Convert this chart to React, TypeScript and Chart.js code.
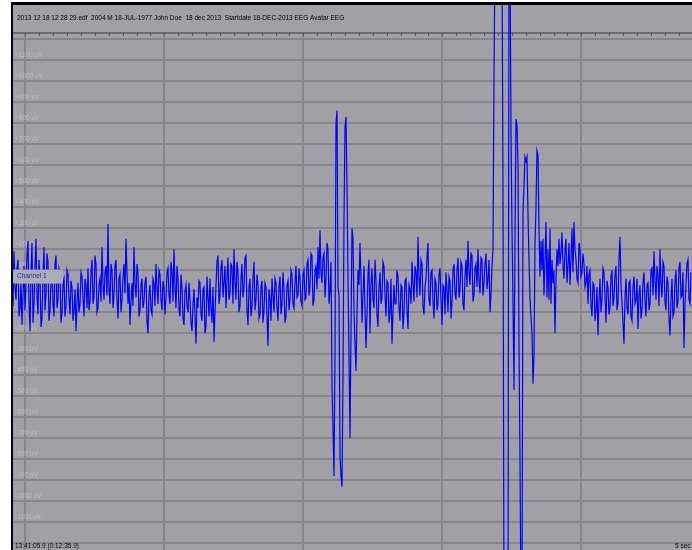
import { useEffect, useRef } from "react";
import { Chart, registerables } from "chart.js";

Chart.register(...registerables);

// ---- Text content ----
const HEADER_TEXT =
  "2013 12 18 12 28 29.edf  2004 M 18-JUL-1977 John Doe  18 dec 2013  Startdate 18-DEC-2013 EEG Avatar EEG";
const CHANNEL_NAME = "Channel 1";
const START_TIME_LABEL = "13:41:05.9 (0:12:35.9)";
const WINDOW_LABEL = "5 sec";

// ---- Axis data ----
const UV_LABEL_VALUES = [
  1100, 1000, 900, 800, 700, 600, 500, 400, 300, 200, 100, 0, -100, -200, -300, -400, -500, -600,
  -700, -800, -900, -1000, -1100,
];
const UV_GRID_VALUES = [
  1200, 1100, 1000, 900, 800, 700, 600, 500, 400, 300, 200, 100, 0, -100, -200, -300, -400, -500,
  -600, -700, -800, -900, -1000, -1100, -1200,
];
const SECOND_MARKS = [0.096, 1.096, 2.096, 3.096, 4.096];
const Y_MIN = -1232;
const Y_MAX = 1363;
const X_MAX_SECONDS = 4.892;
const SECONDS_PER_SAMPLE = 0.007194;

// ---- Signal (uV) ----
const SIGNAL_UV = [
  60, -70, 190, 20, -40, 110, 150, -120, -80, 40, -160, -20, 120, -90, 30, 170, 240, -60, -190, 90,
  230, -150, -60, 120, 250, -30, -110, 150, 60, -170, -130, 80, 210, -90, -20, 180, 140, -140, -90, 50,
  100, -60, -120, 130, 170, -80, -40, 110, 90, -150, -100, 40,
  60, -120, -70, 100, 80, -40, -110, 50, 20, -140, -90, 10, -190, -60, 40, -100, -60, 90, 70, -30, -120, 60, 30, -80,
  110, -90, -50, 90, 150, -60, -30, 170, 130, -100, -80, 30, 60, -50, 210, 40, -40, 90, 120, -20, 320, 10, -60, 130,
  100, -80, -20, 120, 150, -40, -130, 60, 80, -100, -40, 70, 130, -10, 250, 90, -60, 40, -160, -50, 40, -70, 210, 30,
  -30, 130, 90, -120, -90, 30, 60, -80,
  -50, 40, 70, -140, -200, -20, 30, -90, -110, 60, 40, -70, 130, 20, -60, 100, 80, -40, -90, 50, 20, -110, -30, 90,
  110, -20, -60, 140, 90, -50, 200, 30, -80, 120, 60, -90, -120, 80, 20, -130, -160, 0, 30, -70, -100, 40, -40, -150,
  -190, -60, 10, -120, -250, -30,
  -80, 50, 40, -110, -140, 10, 20, -200, -170, 70, -30, -120, 60, -80, -150, 20, -240, -100, 30, 140,
  170, -60, -20, 110, 150, -30, 40, 120, -80, 60, 160, -40, -10, 130, 120, -60, 200, 50, -40, 140, 90, -100, -70, 60,
  130, -30, 20, 160, 170, -90, -160, 20, 60, -120,
  -70, 60, 140, -90, -40, 80, 30, -130, -110, 20, 50, -150, -90, 40, 20, -120, -260, 10, -30, -140, 60, -20,
  -100, 60, 40, -80, -140, 20, 70, -110, -60, 90, 10, -150, -120, 30, 50, -90, -40, 100, 80, -60, -80, 40, 120, -30,
  -20, 110, 60, -50, -70, 80,
  100, -40, -30, 130, 150, -20, 20, 180, 170, -70, -40, 100, 120, 10, 210, 60, 290, 90, 40, 160, 180, -30, 60, 230,
  200, -60, 0, 140,
  -440, -650, -880, -300, 800, 860, 20, -20, -780, -880, -930, -400, 350, 780, 830, 500, 60, -300, -700, -200,
  300, 250, -100, -250, -380, -100, 100, 30, 230, 60, -150, -20, 120, -80, -270, -110, 80, 150, -200, 30,
  110, -40, -80, 150, 60, -110, -170, 20, 90, -60, -30, 140, 120, -20, -120, 50, 40, -150, -90, 60, -250, -100, 30, -60,
  -60, 100, 70, -80, -140, 30, 20, -180, -100, 50,
  60, -90, -180, 30, 10, -60, 140, 40, -50, 120, 90, -30, 260, 60, -20, 150, 130, -70, -110, 20, 60, 160, 230, -40,
  -70, 90, 100, -50,
  -130, 60, 40, -90, -60, 80, 110, -40, -160, 30, 20, -110, 90, 10, -100, 70, 50, -130, -50, 100,
  130, -10, -40, 100, 160, -30, 10, 140, 120, -60, -90, 70, 150, 20, 240, 90, 30, 180, 170, -50, -20, 110, 130, 20,
  200, 50, -10, 160, 150, -20, 40, 130, 180, 10, 60, 150, -100, -20, 120, 200,
  1020, 1600, 1600, 1600, 1600, 1600, 1600, 1600, 1600, 520, -1500, -1500, -1500, -1500, -1500, 1600, 1600, 760,
  300, -60, -470, 250, 820, 790, 600, -250, -800, -1500, -1500, 370, 500, 640, 620, 640, 370, 150, -30, -120,
  -200, -440, -300, 220, 400, 670, 650, 300, 70, 240, 100, 250, -20, 150, 330, -30, 200, -40, 300, -60, 150, 40,
  100, -200, 60, 200, 120, 250, 130, 180,
  280, 120, 60, 200, 250, 40, 120, 230, 30, 150, 300, 90, 330, 200, 150, 60, 40, 230, 200, 70, 90, 180, 130, 20, 40, 120,
  -60, 80, 100, -70, -120, 40, 30, -140, -90, 20, -210, -50, 60, -100, -40, 110, 90, -30, -150, 50, 20, -110, -80, 70,
  100, -70, -30, 80, 120, -90, -60, 150, 260, 30, -50, -150, -250, -30, 60, -80, -110, 40, 50, -120, -140, 20, 70, -60,
  -40, 60, -180, -20, 30, -130, -90, 40, 90, -50, -120, 30, 40, -90, -60, 100,
  110, -20, 190, 60, -40, 120, 80, -70, 200, 40, -30, 140, 120, -50, -90, 70, 40, -130, -210, -40, 60, -120, -100, 50,
  100, -80, -50, 110, 140, -30, -20, 90, -270, -60, 30, 130, 150, -40, -60, 90,
];

const FONT = '"Liberation Sans", Arial, sans-serif';

const eegPlugin = {
  id: "eegDecor",
  beforeDraw(chart: any) {
    const { ctx, chartArea: a, scales } = chart;
    const x = scales.x;
    const y = scales.y;
    ctx.save();
    ctx.fillStyle = "#ffffff";
    ctx.fillRect(0, 0, chart.width, chart.height);
    ctx.fillStyle = "#a1a1a5";
    ctx.fillRect(a.left, a.top, a.right - a.left, a.bottom - a.top);

    const rulerY = a.top + 28;
    ctx.strokeStyle = "#878789";
    ctx.lineWidth = 2;
    for (const v of UV_GRID_VALUES) {
      const py = Math.round(y.getPixelForValue(v));
      if (py < rulerY) continue;
      ctx.beginPath();
      ctx.moveTo(a.left, py);
      ctx.lineTo(a.right, py);
      ctx.stroke();
    }
    for (const s of SECOND_MARKS) {
      const px = Math.round(x.getPixelForValue(s));
      ctx.beginPath();
      ctx.moveTo(px, rulerY);
      ctx.lineTo(px, a.bottom);
      ctx.stroke();
    }
    ctx.strokeStyle = "#5a5a5c";
    ctx.lineWidth = 1.5;
    ctx.beginPath();
    ctx.moveTo(a.left, rulerY);
    ctx.lineTo(a.right, rulerY);
    ctx.stroke();
    ctx.lineWidth = 1;
    for (let t = SECOND_MARKS[0]; t < X_MAX_SECONDS; t += 0.1) {
      const px = Math.round(x.getPixelForValue(t)) + 0.5;
      ctx.beginPath();
      ctx.moveTo(px, rulerY);
      ctx.lineTo(px, rulerY + 3);
      ctx.stroke();
    }
    ctx.font = `6.5px ${FONT}`;
    ctx.fillStyle = "#bdbdc1";
    ctx.textBaseline = "middle";
    ctx.textAlign = "left";
    for (const v of UV_LABEL_VALUES) {
      const py = y.getPixelForValue(v);
      const txt = (v > 0 ? "+" : "") + v + " uV";
      ctx.fillText(txt, a.left + 3, py - 5);
    }
    ctx.restore();
  },
  afterDatasetsDraw(chart: any) {
    const { ctx, chartArea: a, scales } = chart;
    const y = scales.y;
    ctx.save();
    const cy = y.getPixelForValue(70);
    ctx.fillStyle = "#acacb4";
    ctx.fillRect(a.left + 1, cy - 7, 50, 14);
    ctx.fillStyle = "#2a2a9a";
    ctx.font = `6.5px ${FONT}`;
    ctx.textBaseline = "middle";
    ctx.fillText(CHANNEL_NAME, a.left + 5, cy);
    ctx.fillStyle = "#000000";
    ctx.fillText(HEADER_TEXT, a.left + 5, a.top + 13);
    ctx.fillText(START_TIME_LABEL, a.left + 3, a.bottom - 4);
    ctx.fillText(WINDOW_LABEL, a.right - 17, a.bottom - 4);
    ctx.fillStyle = "#000000";
    ctx.fillRect(a.left - 1, a.top - 3, a.right - a.left + 1, 3);
    ctx.fillStyle = "#00002e";
    ctx.fillRect(a.left - 1, a.top - 3, 2, a.bottom - a.top + 3);
    ctx.restore();
  },
};

export default function App() {
  const canvasRef = useRef<HTMLCanvasElement | null>(null);

  useEffect(() => {
    document.body.style.margin = "0";
    const canvas = canvasRef.current;
    if (!canvas) return;
    const points = SIGNAL_UV.map((v, i) => ({ x: i * SECONDS_PER_SAMPLE, y: v }));
    const chart = new Chart(canvas, {
      type: "line",
      data: {
        datasets: [
          {
            label: CHANNEL_NAME,
            data: points,
            borderColor: "#0000ff",
            borderWidth: 1.2,
            pointRadius: 0,
            tension: 0,
            fill: false,
          },
        ],
      },
      options: {
        animation: false,
        responsive: false,
        devicePixelRatio: 1,
        layout: { padding: { left: 12, top: 5, right: 0, bottom: 0 } },
        plugins: { legend: { display: false }, tooltip: { enabled: false } },
        scales: {
          x: { type: "linear", min: 0, max: X_MAX_SECONDS, display: false },
          y: { type: "linear", min: Y_MIN, max: Y_MAX, display: false },
        },
      },
      plugins: [eegPlugin],
    });
    return () => chart.destroy();
  }, []);

  return (
    <div style={{ position: "absolute", left: 0, top: 0, width: 692, height: 550 }}>
      <canvas ref={canvasRef} width={692} height={550} style={{ display: "block" }} />
    </div>
  );
}
